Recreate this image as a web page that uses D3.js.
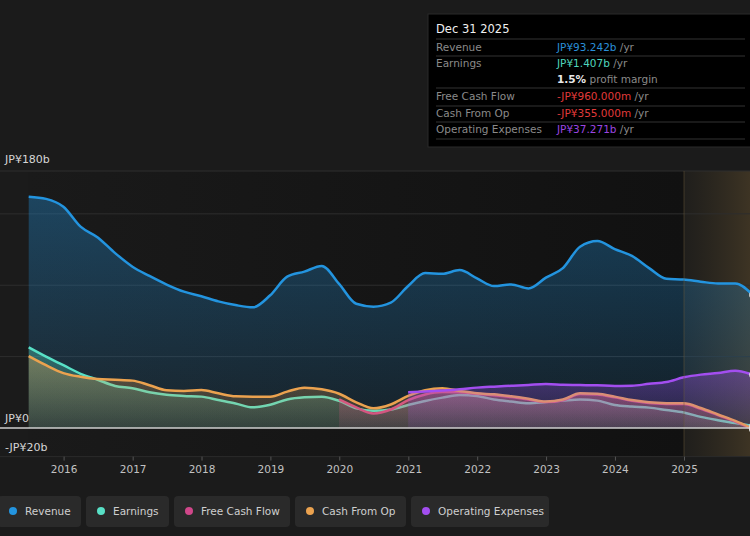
<!DOCTYPE html>
<html><head><meta charset="utf-8">
<script src="https://cdn.jsdelivr.net/npm/d3@7"></script>
<style>
body{margin:0;background:#1b1b1b;}
svg{display:block;font-family:"DejaVu Sans",sans-serif;}
</style></head>
<body><svg id="c" width="750" height="536"></svg>
<script>
const dates = ["2015-06-30","2015-09-30","2015-12-31","2016-03-31","2016-06-30","2016-09-30","2016-12-31","2017-03-31","2017-06-30","2017-09-30","2017-12-31","2018-03-31","2018-06-30","2018-09-30","2018-12-31","2019-03-31","2019-06-30","2019-09-30","2019-12-31","2020-03-31","2020-06-30","2020-09-30","2020-12-31","2021-03-31","2021-06-30","2021-09-30","2021-12-31","2022-03-31","2022-06-30","2022-09-30","2022-12-31","2023-03-31","2023-06-30","2023-09-30","2023-12-31","2024-03-31","2024-06-30","2024-09-30","2024-12-31","2025-03-31","2025-06-30","2025-09-30","2025-12-31"];
const revenue = [162,160.5,155,141,133.5,122.5,113,106.5,100.5,95.5,92.3,88.7,86.1,84.5,93,106,109.5,113.5,101,87,85,87.8,99.5,108.5,108,110.6,104.8,99.4,100.6,97.8,105.3,112,127,131,125.3,120.5,112,104.5,104,102.5,101.2,101.3,93.242];
const earnings = [56.5,50,44,38,33.8,29.5,27.9,25,23.3,22.5,22,19.6,17.2,14.5,16.3,20,21.5,21.9,19,13.8,12.1,13,16.1,19,21.3,23.1,22.4,20,18.6,17.3,18.2,19.2,20,19.2,16.1,15,14.3,12.6,10.9,7.8,5.5,3.5,1.407];
const freeCashFlow = [null,null,null,null,null,null,null,null,null,null,null,null,null,null,null,null,null,null,20,14.5,10.2,13,19.5,23.5,25.2,25,24,23,21.7,20,18.2,19.5,23.8,23.5,21.5,19.1,17.5,16.9,16.8,13.5,9,4.5,-0.96];
const cashFromOp = [50.4,44,38.5,35.9,34.3,33.8,33.2,30,26.5,26,26.6,24.3,22.2,21.9,21.9,25.5,28.2,27.1,24,18,13.8,16.5,22.5,26.5,27.9,26,24.3,23.6,22.2,20.5,18.6,20,24.3,24,22,19.6,18,17.4,17.3,14,9.5,5,-0.355];
const opExpenses = [null,null,null,null,null,null,null,null,null,null,null,null,null,null,null,null,null,null,null,null,null,null,25,25.6,26.3,27.1,28.3,29,29.6,30.2,30.8,30.4,30.1,29.9,29.5,29.6,31,32.2,35.5,37.4,38.5,40.1,37.271];
const yearTicks = [2016,2017,2018,2019,2020,2021,2022,2023,2024,2025];
const yLabels = [{v:180,t:"JP¥180b"},{v:0,t:"JP¥0"},{v:-20,t:"-JP¥20b"}];
const gridValues = [180,150,100,50];
const seriesNames = ["Revenue","Earnings","Free Cash Flow","Cash From Op","Operating Expenses"];
const seriesColors = ["#2394df","#58e0c6","#d0478a","#eba24f","#a34ef0"];
const tipRows = [
  {label:"Revenue", value:"JP¥93.242b", color:"#2a8fd8"},
  {label:"Earnings", value:"JP¥1.407b", color:"#4fd6bd"},
  {label:"", value:"1.5%", color:"#e8e8e8", extra:" profit margin"},
  {label:"Free Cash Flow", value:"-JP¥960.000m", color:"#e03a3a"},
  {label:"Cash From Op", value:"-JP¥355.000m", color:"#e03a3a"},
  {label:"Operating Expenses", value:"JP¥37.271b", color:"#9b45e0"}
];

const parse = d3.timeParse("%Y-%m-%d");
const D = dates.map(parse);
const svg = d3.select("#c");
const W = 750;
const x = d3.scaleTime().domain([new Date(2016,0,1), new Date(2025,0,1)]).range([63.6, 684]);
const y = d3.scaleLinear().domain([-20,180]).range([456.6,171]);
const plotL = 28, forecastX = x(new Date(2025,0,1));

const defs = svg.append("defs");
const bgG = defs.append("linearGradient").attr("id","bgG").attr("x1",0).attr("x2",1).attr("y1",0).attr("y2",0);
bgG.append("stop").attr("offset",0).attr("stop-color","#1a1a1a");
bgG.append("stop").attr("offset",1).attr("stop-color","#111111");
const fcG = defs.append("linearGradient").attr("id","fcG").attr("x1",0).attr("x2",1).attr("y1",0).attr("y2",0);
fcG.append("stop").attr("offset",0).attr("stop-color","#3a3222").attr("stop-opacity",0.15);
fcG.append("stop").attr("offset",1).attr("stop-color","#463a26").attr("stop-opacity",0.8);

svg.append("rect").attr("x",plotL).attr("y",y(180)).attr("width",forecastX-plotL).attr("height",y(-20)-y(180)).attr("fill","url(#bgG)");
svg.append("rect").attr("x",forecastX).attr("y",y(180)).attr("width",W-forecastX).attr("height",y(-20)-y(180)).attr("fill","url(#fcG)");

svg.selectAll(".grid").data(gridValues).enter().append("line")
  .attr("x1",0).attr("x2",W).attr("y1",d=>y(d)).attr("y2",d=>y(d))
  .attr("stroke","#2e2e2e").attr("stroke-width",1);

const series = [revenue, earnings, freeCashFlow, cashFromOp, opExpenses];
series.forEach((vals,i)=>{
  const col = seriesColors[i];
  const g = defs.append("linearGradient").attr("id","ag"+i).attr("x1",0).attr("x2",0).attr("y1",0).attr("y2",1);
  g.append("stop").attr("offset",0).attr("stop-color",col).attr("stop-opacity",0.35);
  g.append("stop").attr("offset",1).attr("stop-color",col).attr("stop-opacity",0.1);
  const pts = D.map((d,k)=>({d, v:vals[k]})).filter(p=>p.v!==null);
  const area = d3.area().x(p=>x(p.d)).y0(y(0)).y1(p=>y(p.v)).curve(d3.curveMonotoneX);
  const line = d3.line().x(p=>x(p.d)).y(p=>y(p.v)).curve(d3.curveMonotoneX);
  svg.append("path").datum(pts).attr("d",area).attr("fill","url(#ag"+i+")");
  svg.append("path").datum(pts).attr("d",line).attr("fill","none").attr("stroke",col).attr("stroke-width",2.5);
});

svg.append("line").attr("x1",forecastX).attr("x2",forecastX).attr("y1",y(180)).attr("y2",y(-20))
  .attr("stroke","#6a5a3a").attr("stroke-opacity",0.5).attr("stroke-width",1);

svg.append("line").attr("x1",0).attr("x2",W).attr("y1",y(0)).attr("y2",y(0)).attr("stroke","#cfcfcf").attr("stroke-width",1.5);
svg.append("line").attr("x1",0).attr("x2",W).attr("y1",y(-20)).attr("y2",y(-20)).attr("stroke","#2a2a2a").attr("stroke-width",1);

series.forEach((vals,i)=>{
  svg.append("circle").attr("cx",x(D[D.length-1])).attr("cy",y(vals[vals.length-1])).attr("r",3.5).attr("fill","#e8e8e8");
});

svg.selectAll(".yl").data(yLabels).enter().append("text")
  .attr("x",5).attr("y",d=> d.v===180 ? y(d.v)-8 : y(d.v)-6)
  .attr("fill","#d6d6d6").attr("font-size",11).text(d=>d.t);

const xa = svg.append("g").attr("transform",`translate(0,${y(-20)})`)
  .call(d3.axisBottom(x).tickValues(yearTicks.map(t=>new Date(t,0,1))).tickFormat(d3.timeFormat("%Y")).tickSize(4).tickPadding(5));
xa.select(".domain").remove();
xa.selectAll(".tick line").attr("stroke","#555");
xa.selectAll(".tick text").attr("fill","#c2c2c2").attr("font-size",10.5).attr("font-family","DejaVu Sans");

const legendBoxes = [[-2,81],[86,169],[174,290],[295,406],[411,549]];
seriesNames.forEach((n,i)=>{
  const [a,b] = legendBoxes[i];
  svg.append("rect").attr("x",a).attr("y",496).attr("width",b-a).attr("height",31).attr("rx",4).attr("fill","#2a2a2a");
  svg.append("circle").attr("cx",a+15).attr("cy",511).attr("r",4).attr("fill",seriesColors[i]);
  svg.append("text").attr("x",a+27).attr("y",515).attr("fill","#cfcfcf").attr("font-size",10.5).text(n);
});

const tip = svg.append("g");
tip.append("rect").attr("x",428).attr("y",14).attr("width",330).attr("height",133).attr("fill","#000").attr("stroke","#2a2a2a");
tip.append("text").attr("x",436).attr("y",33).attr("fill","#f0f0f0").attr("font-size",11.5).text("Dec 31 2025");
const rowY = [51,67,83,100,117,133];
const sepY = [39,56,88,106,122,139];
sepY.forEach(s=>tip.append("line").attr("x1",436).attr("x2",745).attr("y1",s).attr("y2",s).attr("stroke","#333"));
tipRows.forEach((r,i)=>{
  if(r.label) tip.append("text").attr("x",436).attr("y",rowY[i]).attr("fill","#8a8a8a").attr("font-size",10.5).text(r.label);
  const t = tip.append("text").attr("x",557).attr("y",rowY[i]).attr("font-size",10.5);
  t.append("tspan").attr("fill",r.color).attr("font-weight", r.extra?"bold":"normal").text(r.value);
  t.append("tspan").attr("fill","#8a8a8a").text(r.extra ? r.extra : " /yr");
});
</script></body></html>
